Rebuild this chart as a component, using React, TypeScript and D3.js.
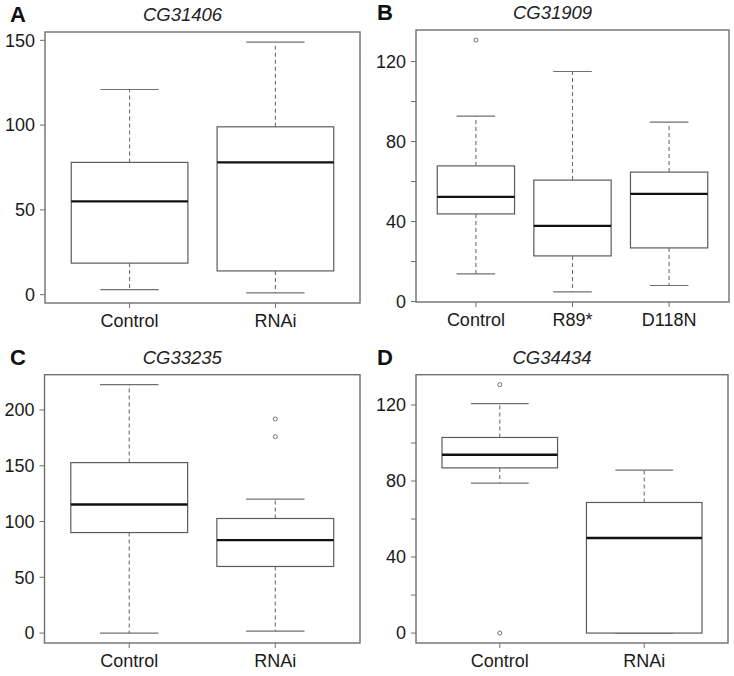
import React, { useEffect } from "react";
import * as d3 from "d3";

// ---- Data ----
// five-number summaries: [lowerWhisker, Q1, median, Q3, upperWhisker]
const aTitle = "CG31406";
const aGroups = ["Control", "RNAi"];
const aStats = [
  [3, 18.6, 55, 78, 121],
  [1, 14, 78, 99, 149],
];
const aOutliers: number[][] = [[], []];
const aTicks = [0, 50, 100, 150];
const aLabels = [0, 50, 100, 150];

const bTitle = "CG31909";
const bGroups = ["Control", "R89*", "D118N"];
const bStats = [
  [13.8, 43.8, 52.3, 67.8, 92.7],
  [4.8, 22.8, 37.8, 60.7, 115],
  [8, 26.8, 53.8, 64.7, 89.7],
];
const bOutliers: number[][] = [[130.7], [], []];
const bTicks = [0, 20, 40, 60, 80, 100, 120];
const bLabels = [0, 40, 80, 120];

const cTitle = "CG33235";
const cGroups = ["Control", "RNAi"];
const cStats = [
  [0, 90.1, 115.2, 152.8, 222.7],
  [1.8, 59.7, 83.3, 102.7, 120],
];
const cOutliers: number[][] = [[], [176.1, 191.9]];
const cTicks = [0, 50, 100, 150, 200];
const cLabels = [0, 50, 100, 150, 200];

const dTitle = "CG34434";
const dGroups = ["Control", "RNAi"];
const dStats = [
  [78.9, 86.9, 93.8, 102.9, 120.7],
  [0, 0, 50, 68.7, 85.7],
];
const dOutliers: number[][] = [[0, 130.7], []];
const dTicks = [0, 20, 40, 60, 80, 100, 120];
const dLabels = [0, 40, 80, 120];

const FONT = "'Liberation Sans', Arial, Helvetica, sans-serif";

type PanelProps = {
  letter: string;
  title: string;
  groups: string[];
  stats: number[][];
  outliers: number[][];
  ticks: number[];
  labels: number[];
  frame: { x0: number; x1: number; y0: number; y1: number };
  ox: number;
  oy: number;
};

function Panel({ letter, title, groups, stats, outliers, ticks, labels, frame, ox, oy }: PanelProps) {
  const n = groups.length;
  const all = [...stats.flat(), ...outliers.flat()];
  const lo = d3.min(all) as number;
  const hi = d3.max(all) as number;
  const pad = (hi - lo) * 0.04;
  const y = d3.scaleLinear().domain([lo - pad, hi + pad]).range([frame.y1, frame.y0]);
  const xr = n * 0.04; // R-style 4% expansion of [0.5, n+0.5]
  const x = d3.scaleLinear().domain([0.5 - xr, n + 0.5 + xr]).range([frame.x0, frame.x1]);
  const bw = (x(1.4) - x(1)) ; // half box width (boxwex 0.8)
  const sw = bw / 2; // staple half width
  const gray = "#707070";
  const boxCol = "#5c5c5c";
  return (
    <g transform={`translate(${ox},${oy})`}>
      <text x={10} y={frame.y0 - 10} fontFamily={FONT} fontWeight="bold" fontSize={22} fill="#111">
        {letter}
      </text>
      <text
        x={(frame.x0 + frame.x1) / 2 - 20}
        y={frame.y0 - 11}
        textAnchor="middle"
        fontFamily={FONT}
        fontStyle="italic"
        fontSize={18.5}
        fill="#222"
      >
        {title}
      </text>
      {/* y ticks */}
      {ticks.map((t) => (
        <line key={"t" + t} x1={frame.x0 - 5} x2={frame.x0} y1={y(t)} y2={y(t)} stroke={gray} strokeWidth={1} />
      ))}
      {labels.map((t) => (
        <text
          key={"l" + t}
          x={frame.x0 - 10}
          y={y(t)}
          dy="0.35em"
          textAnchor="end"
          fontFamily={FONT}
          fontSize={18}
          fill="#1a1a1a"
        >
          {t}
        </text>
      ))}
      {/* x ticks + labels */}
      {groups.map((g, i) => (
        <g key={"x" + g}>
          <line x1={x(i + 1)} x2={x(i + 1)} y1={frame.y1} y2={frame.y1 + 5} stroke={gray} strokeWidth={1} />
          <text
            x={x(i + 1)}
            y={frame.y1 + 24}
            textAnchor="middle"
            fontFamily={FONT}
            fontSize={18}
            fill="#1a1a1a"
          >
            {g}
          </text>
        </g>
      ))}
      {/* boxes */}
      {stats.map((s, i) => {
        const cx = x(i + 1);
        const [wl, q1, med, q3, wh] = s;
        return (
          <g key={"b" + i}>
            <line x1={cx} x2={cx} y1={y(q3)} y2={y(wh)} stroke={gray} strokeWidth={1.1} strokeDasharray="4,3" />
            <line x1={cx} x2={cx} y1={y(q1)} y2={y(wl)} stroke={gray} strokeWidth={1.1} strokeDasharray="4,3" />
            <line x1={cx - sw} x2={cx + sw} y1={y(wh)} y2={y(wh)} stroke={gray} strokeWidth={1.2} />
            <line x1={cx - sw} x2={cx + sw} y1={y(wl)} y2={y(wl)} stroke={gray} strokeWidth={1.2} />
            <rect
              x={cx - bw}
              y={y(q3)}
              width={2 * bw}
              height={y(q1) - y(q3)}
              fill="white"
              stroke={boxCol}
              strokeWidth={1.2}
            />
            <line x1={cx - bw} x2={cx + bw} y1={y(med)} y2={y(med)} stroke="#111" strokeWidth={2.4} />
            {outliers[i].map((o, k) => (
              <circle key={k} cx={cx} cy={y(o)} r={2} fill="none" stroke={gray} strokeWidth={1} />
            ))}
          </g>
        );
      })}
      {/* frame */}
      <rect
        x={frame.x0}
        y={frame.y0}
        width={frame.x1 - frame.x0}
        height={frame.y1 - frame.y0}
        fill="none"
        stroke={gray}
        strokeWidth={1.4}
      />
    </g>
  );
}

export default function App() {
  useEffect(() => {
    document.body.style.margin = "0";
  }, []);
  return (
    <svg width={734} height={676} style={{ position: "absolute", left: 0, top: 0, background: "white" }}>
      <rect width={734} height={676} fill="white" />
      <Panel
        letter="A"
        title={aTitle}
        groups={aGroups}
        stats={aStats}
        outliers={aOutliers}
        ticks={aTicks}
        labels={aLabels}
        frame={{ x0: 45, x1: 360, y0: 32, y1: 303 }}
        ox={0}
        oy={0}
      />
      <Panel
        letter="B"
        title={bTitle}
        groups={bGroups}
        stats={bStats}
        outliers={bOutliers}
        ticks={bTicks}
        labels={bLabels}
        frame={{ x0: 49, x1: 362, y0: 30, y1: 302 }}
        ox={367}
        oy={0}
      />
      <Panel
        letter="C"
        title={cTitle}
        groups={cGroups}
        stats={cStats}
        outliers={cOutliers}
        ticks={cTicks}
        labels={cLabels}
        frame={{ x0: 44.5, x1: 360, y0: 36.7, y1: 305 }}
        ox={0}
        oy={338}
      />
      <Panel
        letter="D"
        title={dTitle}
        groups={dGroups}
        stats={dStats}
        outliers={dOutliers}
        ticks={dTicks}
        labels={dLabels}
        frame={{ x0: 49, x1: 361, y0: 36.7, y1: 305 }}
        ox={367}
        oy={338}
      />
    </svg>
  );
}
